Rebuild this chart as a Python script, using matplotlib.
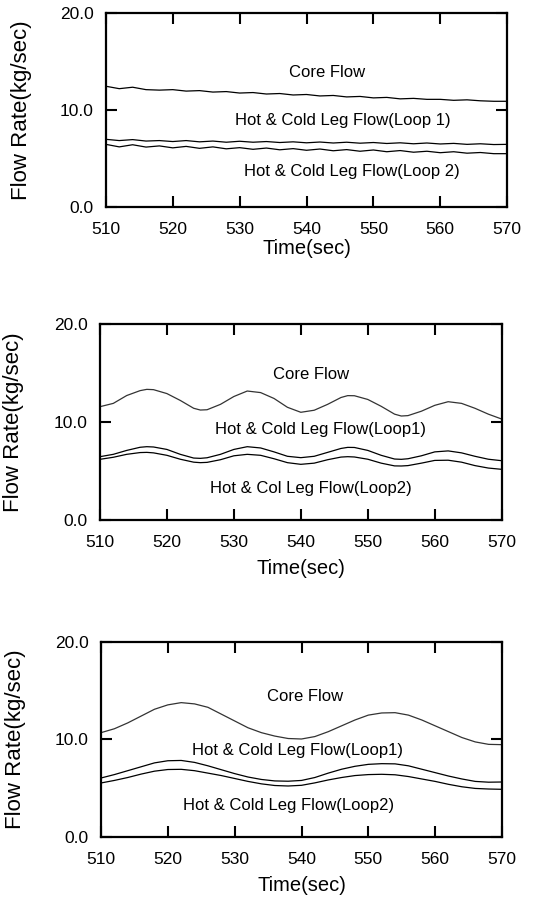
import matplotlib
matplotlib.use("Agg")
import matplotlib.pyplot as plt

plt.rcParams["font.family"] = ["Liberation Sans", "DejaVu Sans"]

# panel 1 (steady, small wiggles)
t1 = [510, 512, 514, 516, 518, 520, 522, 524, 526, 528, 530, 532, 534, 536, 538, 540,
      542, 544, 546, 548, 550, 552, 554, 556, 558, 560, 562, 564, 566, 568, 570]
core1 = [12.45, 12.2, 12.35, 12.1, 12.05, 12.1, 11.95, 12.0, 11.85, 11.9, 11.75, 11.8,
         11.65, 11.7, 11.55, 11.6, 11.45, 11.5, 11.35, 11.4, 11.25, 11.3, 11.15, 11.2,
         11.1, 11.1, 11.0, 11.05, 10.95, 10.9, 10.9]
loop1_1 = [6.98, 6.85, 6.95, 6.8, 6.85, 6.75, 6.85, 6.72, 6.8, 6.68, 6.78, 6.68, 6.75,
           6.65, 6.72, 6.62, 6.7, 6.6, 6.68, 6.58, 6.65, 6.55, 6.62, 6.52, 6.6, 6.5,
           6.56, 6.46, 6.52, 6.44, 6.46]
loop2_1 = [6.46, 6.2, 6.42, 6.18, 6.3, 6.1, 6.25, 6.05, 6.2, 6.0, 6.12, 5.95, 6.08, 5.9,
           6.02, 5.85, 5.98, 5.8, 5.92, 5.75, 5.88, 5.7, 5.82, 5.65, 5.75, 5.6, 5.7, 5.55,
           5.62, 5.5, 5.5]

# panel 2 (period ~15 s)
t2 = [510, 512, 514, 516, 517, 518, 520, 522, 524, 525, 526, 528, 530, 532, 534, 536,
      538, 540, 542, 544, 546, 547, 548, 550, 552, 554, 555, 556, 558, 560, 562, 564,
      566, 568, 570]
core2 = [11.56, 11.9, 12.7, 13.2, 13.33, 13.3, 12.9, 12.2, 11.4, 11.22, 11.25, 11.8,
         12.6, 13.16, 13.0, 12.4, 11.5, 10.99, 11.2, 11.8, 12.5, 12.69, 12.68, 12.3,
         11.6, 10.8, 10.61, 10.65, 11.1, 11.7, 12.07, 11.9, 11.4, 10.8, 10.3]
loop1_2 = [6.46, 6.7, 7.1, 7.42, 7.48, 7.45, 7.2, 6.7, 6.32, 6.29, 6.35, 6.7, 7.2, 7.48,
           7.35, 6.95, 6.5, 6.36, 6.5, 6.9, 7.3, 7.41, 7.4, 7.1, 6.6, 6.22, 6.19, 6.25,
           6.55, 6.95, 7.05, 6.85, 6.5, 6.2, 6.05]
loop2_2 = [6.19, 6.4, 6.7, 6.88, 6.9, 6.85, 6.6, 6.2, 5.9, 5.85, 5.88, 6.15, 6.55, 6.7,
           6.6, 6.25, 5.85, 5.68, 5.8, 6.15, 6.42, 6.46, 6.43, 6.2, 5.8, 5.52, 5.51, 5.55,
           5.8, 6.08, 6.1, 5.9, 5.55, 5.3, 5.17]

# panel 3 (period ~31 s)
t3 = [510, 512, 514, 516, 518, 520, 522, 524, 526, 528, 530, 532, 534, 536, 538, 540,
      542, 544, 546, 548, 550, 552, 554, 556, 558, 560, 562, 564, 566, 568, 570]
core3 = [10.7, 11.1, 11.7, 12.4, 13.1, 13.55, 13.78, 13.65, 13.3, 12.6, 11.9, 11.2,
         10.7, 10.35, 10.1, 10.05, 10.3, 10.8, 11.4, 12.0, 12.5, 12.72, 12.75, 12.5,
         12.0, 11.4, 10.8, 10.2, 9.75, 9.5, 9.47]
loop1_3 = [6.05, 6.4, 6.8, 7.2, 7.6, 7.82, 7.85, 7.65, 7.3, 6.9, 6.5, 6.15, 5.9, 5.75,
           5.72, 5.8, 6.1, 6.55, 6.95, 7.25, 7.45, 7.52, 7.5, 7.3, 6.95, 6.6, 6.25, 5.95,
           5.7, 5.62, 5.64]
loop2_3 = [5.54, 5.8, 6.1, 6.45, 6.75, 6.92, 6.94, 6.8, 6.55, 6.3, 6.0, 5.7, 5.45, 5.28,
           5.23, 5.3, 5.55, 5.85, 6.1, 6.3, 6.4, 6.43, 6.38, 6.2, 5.95, 5.7, 5.4, 5.15,
           4.98, 4.92, 4.89]

x_ticks = [510, 520, 530, 540, 550, 560, 570]
y_ticks = [0.0, 10.0, 20.0]

panels = [
    {
        "rect": [0.195, 0.7692, 0.739, 0.2163], "ylab_x": -0.185, "xpad": 1.5,
        "t": t1, "series": [core1, loop1_1, loop2_1],
        "labels": [("Core Flow", 543.1, 13.9),
                   ("Hot & Cold Leg Flow(Loop 1)", 545.5, 8.87),
                   ("Hot & Cold Leg Flow(Loop 2)", 546.8, 3.7)],
    },
    {
        "rect": [0.184, 0.4203, 0.740, 0.2185], "ylab_x": -0.189, "xpad": 6.5,
        "t": t2, "series": [core2, loop1_2, loop2_2],
        "labels": [("Core Flow", 541.6, 14.8),
                   ("Hot & Cold Leg Flow(Loop1)", 542.9, 9.25),
                   ("Hot & Col Leg Flow(Loop2)", 541.5, 3.23)],
    },
    {
        "rect": [0.186, 0.0669, 0.7385, 0.2174], "ylab_x": -0.187, "xpad": 6,
        "t": t3, "series": [core3, loop1_3, loop2_3],
        "labels": [("Core Flow", 540.5, 14.36),
                   ("Hot & Cold Leg Flow(Loop1)", 539.4, 8.89),
                   ("Hot & Cold Leg Flow(Loop2)", 538.0, 3.25)],
    },
]

fig = plt.figure(figsize=(5.43, 8.97), dpi=100)
fig.patch.set_facecolor("white")

for i, p in enumerate(panels):
    ax = fig.add_axes(p["rect"])
    for k, s in enumerate(p["series"]):
        color = "#333333" if (k == 0 and i > 0) else "black"
        ax.plot(p["t"], s, color=color, linewidth=0.9)
    for text, tx, ty in p["labels"]:
        ax.text(tx, ty, text, ha="center", va="center", fontsize=12)

    ax.set_xlim(510, 570)
    ax.set_ylim(0, 20)
    ax.set_xticks(x_ticks)
    ax.set_yticks(y_ticks)
    ax.set_yticklabels([f"{v:.1f}" for v in y_ticks])
    ax.tick_params(direction="in", top=True, right=True, length=8, width=1.5,
                   labelsize=12.5)
    ax.tick_params(axis="x", pad=11)
    ax.tick_params(axis="y", pad=9)
    for spine in ax.spines.values():
        spine.set_linewidth(1.6)
    ax.set_xlabel("Time(sec)", fontsize=14.5, labelpad=p["xpad"])
    ax.set_ylabel("Flow Rate(kg/sec)", fontsize=16)
    ax.yaxis.set_label_coords(p["ylab_x"], 0.5)

fig.savefig("out.png", dpi=100)
